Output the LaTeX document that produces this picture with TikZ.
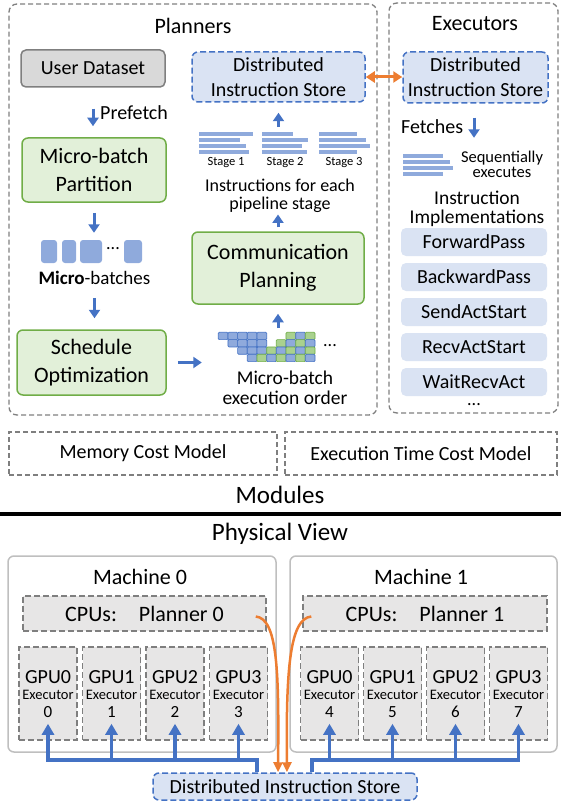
\documentclass[tikz,border=0pt]{standalone}
\usepackage{fontspec}
\setmainfont{Carlito}
\usetikzlibrary{arrows.meta}
\definecolor{bluefill}{HTML}{DAE3F3}
\definecolor{blueline}{HTML}{4472C4}
\definecolor{barblue}{HTML}{8FAADC}
\definecolor{greenfill}{HTML}{E2F0D9}
\definecolor{greenline}{HTML}{70AD47}
\definecolor{grayfill}{HTML}{D9D9D9}
\definecolor{grayline}{HTML}{7F7F7F}
\definecolor{cpufill}{HTML}{E7E6E6}
\definecolor{lightline}{HTML}{BFBFBF}
\definecolor{orangeline}{HTML}{ED7D31}
\definecolor{cellb}{HTML}{8FAADC}
\definecolor{cellbd}{HTML}{4472C4}
\definecolor{cellg}{HTML}{A9D18E}
\definecolor{cellgd}{HTML}{70AD47}
\newcommand{\fsz}[2]{\fontsize{#1}{#2}\selectfont}

\begin{document}
\begin{tikzpicture}[x=1pt,y=-1pt,inner sep=0pt,
  panel/.style={draw=grayline,line width=1.3pt,dash pattern=on 5pt off 3pt,rounded corners=8pt},
  user box/.style={draw=grayline,fill=grayfill,line width=1.5pt,rounded corners=5pt,font=\fsz{20}{24}},
  green box/.style={draw=greenline,fill=greenfill,line width=1.5pt,rounded corners=6pt,align=center,font=\fsz{22}{27.5}},
  store box/.style={draw=blueline,fill=bluefill,line width=1.5pt,dash pattern=on 6pt off 3pt,rounded corners=6pt,align=center,font=\fsz{20}{25}},
  impl box/.style={fill=bluefill,rounded corners=5pt,minimum width=146pt,minimum height=28pt,font=\fsz{20}{24}},
  cost box/.style={draw=grayline,line width=1.3pt,dash pattern=on 5pt off 3pt,minimum height=43pt,font=\fsz{20}{24}},
  machine box/.style={draw=lightline,line width=1.5pt,rounded corners=6pt,fill=white},
  hw box/.style={draw=grayline,fill=cpufill,line width=1.5pt,dash pattern=on 6pt off 3pt},
  flow/.style={draw=blueline,line width=3pt,-{Triangle[width=11pt,length=8.5pt]}},
  bus/.style={draw=blueline,line width=3.5pt,-{Triangle[width=12pt,length=11pt]}},
  sync/.style={draw=orangeline,line width=2.5pt,-{Triangle[width=9pt,length=10pt]}}]
    \useasboundingbox (0,0) rectangle (561,805);

    % planners and executors
    \node[panel, minimum width=368pt, minimum height=411pt] (plan) at (193,209.5) {};
    \node[panel, minimum width=169pt, minimum height=410pt] (exe) at (473.5,208) {};
    \node[font=\fsz{22}{26}] (plantitle) at (193,26) {Planners};
    \node[font=\fsz{22}{26}] (exetitle) at (475,24) {Executors};

    \node[user box, minimum width=144pt, minimum height=37pt] (ud) at (93,68.5) {User Dataset};
    \node[font=\fsz{20}{24}, anchor=west] (pref) at (100,113) {Prefetch};
    \node[green box, minimum width=144pt, minimum height=64pt] (mbp) at (94,170) {Micro-batch\\Partition};
    \node[minimum width=101pt, minimum height=23pt] (mbrow) at (91.5,251.5) {};
    \foreach \xa/\xb in {41/57,62/76,80/102,124/142}
        \fill[barblue, rounded corners=3pt] (\xa,240) rectangle (\xb,263);
    \node[font=\fsz{18}{20}] (mbdots) at (113,249) {...};
    \node[font=\fsz{19}{22}] (mblabel) at (94.5,278) {\textbf{Micro}-batches};
    \node[green box, minimum width=149pt, minimum height=65pt] (sched) at (91.5,362.5) {Schedule\\Optimization};

    \node[store box, minimum width=173pt, minimum height=50pt] (dis) at (278.5,77) {Distributed\\Instruction Store};
    \node[minimum width=171pt, minimum height=23pt] (bars) at (284.5,143.5) {};
    \foreach \xa/\ya/\xb in {199/132/253,199/138/240,199/144/246,199/150/249,
                             262/132/293,262/138/308,262/144/302,262/150/307,
                             319/132/357,319/138/366,319/144/370,319/150/357}
        \fill[barblue] (\xa,\ya) rectangle (\xb,\ya+4.5);
    \foreach \i/\x in {1/226,2/285,3/344}
        \node[font=\fsz{12.5}{14}] (stage\i) at (\x,163) {Stage \i};
    \node[align=center, font=\fsz{18}{18}] (instr) at (280,196) {Instructions for each\\pipeline stage};
    \node[green box, minimum width=172pt, minimum height=72pt] (comm) at (278,268) {Communication\\Planning};
    \node[minimum width=97pt, minimum height=29.5pt] (ordgrid) at (266.5,347) {};
    \foreach \r/\cells in {0/{0/b,1/b,2/b,3/b,4/b,7/g,8/b,9/g},
                           1/{1/b,2/b,3/b,4/b,6/g,7/b,8/g,9/b},
                           2/{2/b,3/b,4/b,5/g,6/b,7/g,8/b,9/g},
                           3/{3/b,4/g,5/b,6/g,7/b,8/g,9/b}}
        \foreach \c/\k in \cells
            \draw[fill=cell\k, draw=cell\k d, line width=0.7pt, rounded corners=1pt]
                (218.3+9.67*\c,332.3+7.33*\r) rectangle ++(9.67,7.33);
    \node[font=\fsz{18}{20}] (orddots) at (330,346) {...};
    \node[align=center, font=\fsz{19.5}{20}] (order) at (285,388) {Micro-batch\\execution order};

    \draw[flow, shorten <=21pt, shorten >=11pt] (ud.south) -- (ud.south |- mbp.north);
    \draw[flow, shorten <=10pt, shorten >=7pt] (mbp.south) -- (mbp.south |- mbrow.north);
    \draw[flow, shorten <=13pt, shorten >=11pt] (mblabel.south) -- (mblabel.south |- sched.north);
    \draw[flow, shorten <=11pt, shorten >=16pt] (sched.east) -- (sched.east -| ordgrid.west);
    \draw[flow, shorten <=4pt, shorten >=9pt] (ordgrid.north -| comm.south) -- (comm.south);
    \draw[flow, shorten <=4pt, shorten >=1.5pt] (comm.north) -- (comm.north |- instr.south);
    \draw[flow, shorten <=5pt, shorten >=10pt] (bars.north -| dis.south) -- (dis.south);

    \node[store box, minimum width=145pt, minimum height=51pt] (edis) at (475.5,77.5) {Distributed\\Instruction Store};
    \draw[draw=orangeline, line width=3pt, {Triangle[width=11pt,length=9pt]}-{Triangle[width=11pt,length=9pt]}]
        (dis.east) -- (dis.east -| edis.west);
    \node[font=\fsz{20}{24}, anchor=west] (fetch) at (401,127) {Fetches};
    \node[minimum width=50pt, minimum height=24pt] (ebars) at (428,165) {};
    \foreach \ya/\xb in {154/443,160/450,166/453,172/443}
        \fill[barblue] (403,\ya) rectangle (\xb,\ya+4.5);
    \draw[flow, shorten <=14pt, shorten >=15pt] ([xshift=-1.5pt]edis.south) -- ([xshift=-1.5pt]edis.south |- ebars.north);
    \node[align=center, font=\fsz{16.5}{15}] (seq) at (502,164.5) {Sequentially\\executes};
    \node[align=center, font=\fsz{19.5}{19}] (impl) at (477,209) {Instruction\\Implementations};
    \foreach \name [count=\i from 0] in {ForwardPass,BackwardPass,SendActStart,RecvActStart,WaitRecvAct}
        \node[impl box] (op\i) at (474,242+35*\i) {\name};
    \node[font=\fsz{18}{20}] (opdots) at (474,405) {...};

    % modules
    \node[cost box, minimum width=268pt] (mem) at (143,453.5) {Memory Cost Model};
    \node[cost box, minimum width=272pt] (time) at (421,453.5) {Execution Time Cost Model};
    \node[font=\fsz{25}{30}] (modules) at (280,495) {Modules};
    \draw[line width=4pt] (0,514) -- (561,514);
    \node[font=\fsz{25}{30}] (phys) at (280,534) {Physical View};

    % physical view
    \node[machine box, minimum width=268pt, minimum height=196pt] (m0) at (142,654) {};
    \node[machine box, minimum width=267pt, minimum height=196pt] (m1) at (423.5,654) {};
    \node[font=\fsz{22}{26}] (m0t) at (140,577) {Machine 0};
    \node[font=\fsz{22}{26}] (m1t) at (421,577) {Machine 1};
    \node[hw box, minimum width=243pt, minimum height=35pt, font=\fsz{22}{26}] (cpu0) at (144.5,613.5) {CPUs:\quad Planner 0};
    \node[hw box, minimum width=244pt, minimum height=35pt, font=\fsz{22}{26}] (cpu1) at (425,613.5) {CPUs:\quad Planner 1};
    \foreach \i/\e/\x in {0/0/48,1/1/111.5,2/2/175,3/3/238.5,0/4/329.5,1/5/392.5,2/6/455.5,3/7/518.5} {
        \node[hw box, minimum width=58pt, minimum height=93pt] (g\e) at (\x,693.5) {};
        \node[font=\fsz{20}{24}] (g\e n) at (\x,677) {GPU\i};
        \node[font=\fsz{14.5}{17}] (g\e x) at (\x,694.5) {Executor};
        \node[font=\fsz{17}{20}] (g\e d) at (\x,712) {\e};
    }
    \node[store box, minimum width=264pt, minimum height=27pt] (store) at (285,786.5) {Distributed Instruction Store};

    \coordinate (busL) at (257,760);
    \coordinate (busR) at (312,760);
    \draw[bus] (store.north -| busL) -- (busL) -| ([yshift=17pt]g0.south);
    \foreach \i in {1,2,3}
        \draw[bus] (g\i.south |- busL) -- ([yshift=17pt]g\i.south);
    \draw[bus] (store.north -| busR) -- (busR) -| ([yshift=17pt]g7.south);
    \foreach \i in {4,5,6}
        \draw[bus] (g\i.south |- busR) -- ([yshift=17pt]g\i.south);
    \draw[sync] ([xshift=-11pt,yshift=-3pt]cpu0.east) .. controls +(22,2) and +(1,-100) .. ([xshift=-7pt]store.north);
    \draw[sync] ([xshift=9pt,yshift=-3pt]cpu1.west) .. controls +(-22,2) and +(-1,-100) .. ([xshift=2pt]store.north);
\end{tikzpicture}
\end{document}
